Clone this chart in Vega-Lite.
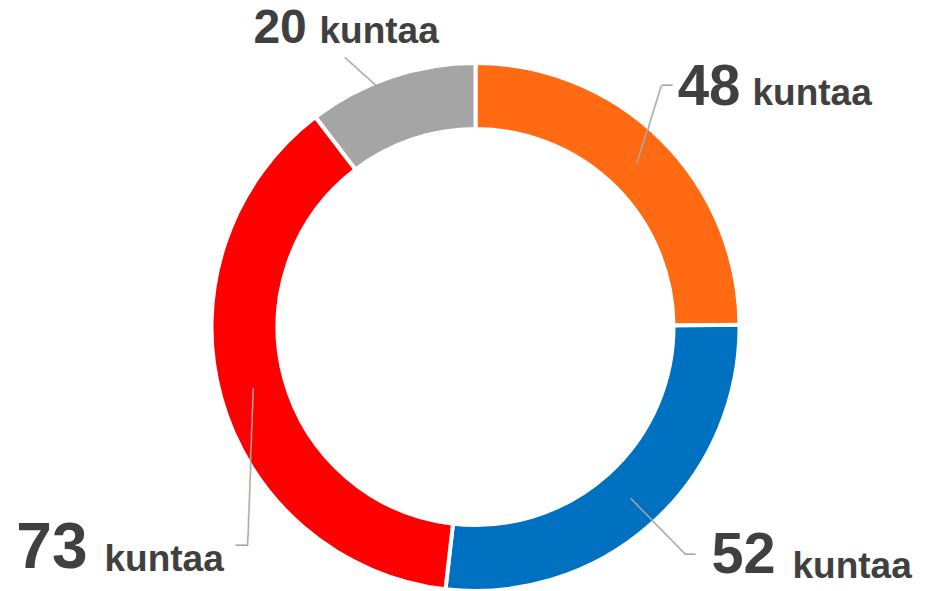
{
  "$schema": "https://vega.github.io/schema/vega-lite/v6.json",
  "width": 921,
  "height": 528,
  "autosize": "none",
  "padding": {"left": 15, "top": 63, "right": 0, "bottom": 0},
  "background": "white",
  "config": {"view": {"stroke": null}},
  "data": {
    "values": [
      {"ryhma": "A", "kuntia": 48, "jarjestys": 1},
      {"ryhma": "B", "kuntia": 52, "jarjestys": 2},
      {"ryhma": "C", "kuntia": 73, "jarjestys": 3},
      {"ryhma": "D", "kuntia": 20, "jarjestys": 4}
    ]
  },
  "encoding": {
    "theta": {"field": "kuntia", "type": "quantitative", "stack": true},
    "order": {"field": "jarjestys", "type": "quantitative"}
  },
  "layer": [
    {
      "mark": {"type": "arc", "outerRadius": 264, "innerRadius": 198, "stroke": "white", "strokeWidth": 4},
      "encoding": {
        "color": {
          "field": "ryhma", "type": "nominal",
          "scale": {"domain": ["A", "B", "C", "D"], "range": ["#FF6A13", "#0070C0", "#FF0000", "#A5A5A5"]},
          "legend": null
        }
      }
    },
    {
      "mark": {"type": "text", "radius": 231, "align": "left", "baseline": "middle", "font": "DejaVu Sans Mono", "color": "#A6A6A6"},
      "encoding": {
        "text": {"condition": [
          {"test": "datum.ryhma === 'A'", "value": "────────"},
          {"test": "datum.ryhma === 'B'", "value": "────────"},
          {"test": "datum.ryhma === 'C'", "value": "────────────────"},
          {"test": "datum.ryhma === 'D'", "value": "────────"}
        ], "value": ""},
        "angle": {"condition": [
          {"test": "datum.ryhma === 'A'", "value": 287.2},
          {"test": "datum.ryhma === 'B'", "value": 45.6},
          {"test": "datum.ryhma === 'C'", "value": 92.1}
        ], "value": 222.1},
        "size": {"condition": [
          {"test": "datum.ryhma === 'A'", "value": 16.74},
          {"test": "datum.ryhma === 'B'", "value": 16.32},
          {"test": "datum.ryhma === 'C'", "value": 16.37}
        ], "value": 15.84}
      }
    },
    {
      "mark": {"type": "text", "radius": 231, "dx": 23.8, "dy": -77, "align": "left", "baseline": "middle", "font": "DejaVu Sans Mono", "fontSize": 17, "color": "#A6A6A6"},
      "encoding": {"text": {"condition": {"test": "datum.ryhma === 'A'", "value": "─"}, "value": ""}}
    },
    {
      "mark": {"type": "text", "radius": 231, "dx": 55, "dy": 56.2, "align": "left", "baseline": "middle", "font": "DejaVu Sans Mono", "fontSize": 17, "color": "#A6A6A6"},
      "encoding": {"text": {"condition": {"test": "datum.ryhma === 'B'", "value": "─"}, "value": ""}}
    },
    {
      "mark": {"type": "text", "radius": 231, "dx": -5.8, "dy": 157.6, "align": "right", "baseline": "middle", "font": "DejaVu Sans Mono", "fontSize": 19, "color": "#A6A6A6"},
      "encoding": {"text": {"condition": {"test": "datum.ryhma === 'C'", "value": "─"}, "value": ""}}
    },
    {
      "mark": {"type": "text", "radius": 231, "dx": 102.3, "dy": -58, "align": "right", "baseline": "alphabetic", "font": "Liberation Sans", "fontWeight": "bold", "color": "#404040"},
      "encoding": {
        "text": {"condition": {"test": "datum.ryhma === 'A'", "field": "kuntia", "type": "nominal"}, "value": ""},
        "size": {"field": "kuntia", "type": "quantitative", "scale": {"zero": false, "range": [48, 64]}, "legend": null}
      }
    },
    {
      "mark": {"type": "text", "radius": 231, "dx": 145.7, "dy": 74.2, "align": "right", "baseline": "alphabetic", "font": "Liberation Sans", "fontWeight": "bold", "color": "#404040"},
      "encoding": {
        "text": {"condition": {"test": "datum.ryhma === 'B'", "field": "kuntia", "type": "nominal"}, "value": ""},
        "size": {"field": "kuntia", "type": "quantitative", "scale": {"zero": false, "range": [48, 64]}, "legend": null}
      }
    },
    {
      "mark": {"type": "text", "radius": 231, "dx": -165.3, "dy": 179.6, "align": "right", "baseline": "alphabetic", "font": "Liberation Sans", "fontWeight": "bold", "color": "#404040"},
      "encoding": {
        "text": {"condition": {"test": "datum.ryhma === 'C'", "field": "kuntia", "type": "nominal"}, "value": ""},
        "size": {"field": "kuntia", "type": "quantitative", "scale": {"zero": false, "range": [48, 64]}, "legend": null}
      }
    },
    {
      "mark": {"type": "text", "radius": 231, "dx": -94.8, "dy": -64.8, "align": "right", "baseline": "alphabetic", "font": "Liberation Sans", "fontWeight": "bold", "color": "#404040"},
      "encoding": {
        "text": {"condition": {"test": "datum.ryhma === 'D'", "field": "kuntia", "type": "nominal"}, "value": ""},
        "size": {"field": "kuntia", "type": "quantitative", "scale": {"zero": false, "range": [48, 64]}, "legend": null}
      }
    },
    {
      "mark": {"type": "text", "radius": 231, "dx": 114.3, "dy": -58, "align": "left", "baseline": "alphabetic", "font": "Liberation Sans", "fontWeight": "bold", "fontSize": 37, "color": "#404040"},
      "encoding": {"text": {"condition": {"test": "datum.ryhma === 'A'", "value": "kuntaa"}, "value": ""}}
    },
    {
      "mark": {"type": "text", "radius": 231, "dx": 162.5, "dy": 79.2, "align": "left", "baseline": "alphabetic", "font": "Liberation Sans", "fontWeight": "bold", "fontSize": 37, "color": "#404040"},
      "encoding": {"text": {"condition": {"test": "datum.ryhma === 'B'", "value": "kuntaa"}, "value": ""}}
    },
    {
      "mark": {"type": "text", "radius": 231, "dx": -148.3, "dy": 183.1, "align": "left", "baseline": "alphabetic", "font": "Liberation Sans", "fontWeight": "bold", "fontSize": 37, "color": "#404040"},
      "encoding": {"text": {"condition": {"test": "datum.ryhma === 'C'", "value": "kuntaa"}, "value": ""}}
    },
    {
      "mark": {"type": "text", "radius": 231, "dx": -82.1, "dy": -64.8, "align": "left", "baseline": "alphabetic", "font": "Liberation Sans", "fontWeight": "bold", "fontSize": 37, "color": "#404040"},
      "encoding": {"text": {"condition": {"test": "datum.ryhma === 'D'", "value": "kuntaa"}, "value": ""}}
    }
  ]
}
